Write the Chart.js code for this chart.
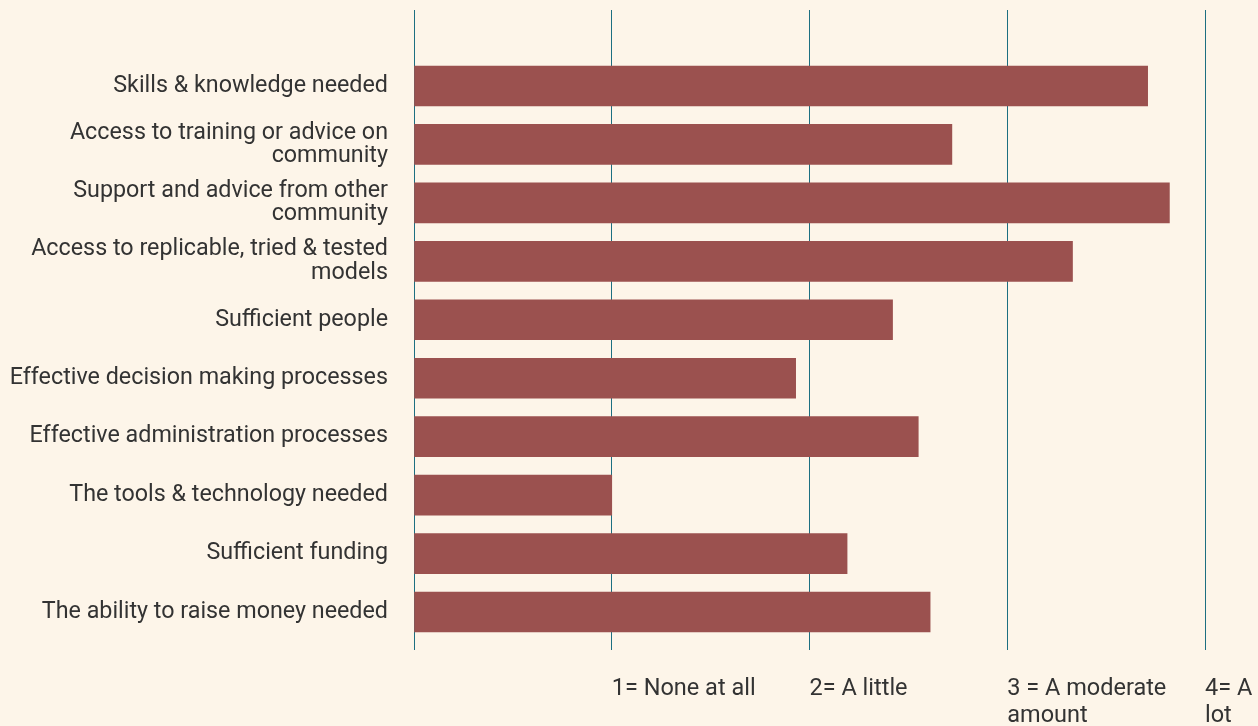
<!DOCTYPE html>
<html>
<head>
<meta charset="utf-8">
<script src="https://cdn.jsdelivr.net/npm/chart.js@4"></script>
<style>
  html, body { margin: 0; padding: 0; background: #fdf5e9; }
  #wrap { width: 1258px; height: 726px; position: relative; }
</style>
</head>
<body>
<div id="wrap"><canvas id="chart"></canvas></div>
<script>
/* ── Data ── */
const CATEGORIES = [
  'Skills & knowledge needed',
  ['Access to training or advice on', 'community'],
  ['Support and advice from other', 'community'],
  ['Access to replicable, tried & tested', 'models'],
  'Sufficient people',
  'Effective decision making processes',
  'Effective administration processes',
  'The tools & technology needed',
  'Sufficient funding',
  'The ability to raise money needed',
];
const SCORES = [3.71, 2.72, 3.82, 3.33, 2.42, 1.93, 2.55, 1.0, 2.19, 2.61];
const SCALE_LABELS = ['', '1= None at all', '2= A little', ['3 = A moderate', 'amount'], ['4= A', 'lot']];

/* ── Constants ── */
const BAR_COLOR  = '#9b514f';
const GRID_COLOR = '#1d6f81';
const TEXT_COLOR = '#333333';
const FONT       = 'Roboto, "Noto Sans", sans-serif';

/* ── Horizontal bar chart (index axis is linear so the plot can run past the bars) ── */
new Chart(document.getElementById('chart'), {
  type: 'bar',
  data: {
    datasets: [{
      data:            SCORES.map((v, i) => ({ x: v, y: i })),
      backgroundColor: BAR_COLOR,
      borderWidth:     0,
      barThickness:    40,
    }],
  },
  options: {
    indexAxis:           'y',
    responsive:          true,
    maintainAspectRatio: false,
    animation:           false,
    layout: { padding: { top: 10, left: 0, right: 0, bottom: 0 } },
    plugins: {
      legend:  { display: false },
      tooltip: { enabled: false },
    },
    scales: {
      x: {
        type: 'linear',
        min: 0,
        max: 4,
        offset: false,
        border: { display: false },
        grid:   { color: GRID_COLOR, lineWidth: 1, drawTicks: false, offset: false },
        afterFit: s => { s.height = 76; s.paddingLeft = 0; s.paddingRight = 53; },
        ticks: {
          stepSize: 1,
          align:    'start',
          padding:  26,
          color:    TEXT_COLOR,
          font:     { family: FONT, size: 23.5, lineHeight: 1.15 },
          callback: v => SCALE_LABELS[v] ?? '',
        },
      },
      y: {
        type: 'linear',
        reverse: true,
        offset: false,
        min: -1.3,
        max: 9.65,
        border: { display: false },
        grid:   { display: false, offset: false },
        afterFit: s => { s.width = 414; s.paddingTop = 0; s.paddingBottom = 0; },
        ticks: {
          stepSize: 1,
          autoSkip: false,
          padding:  18,
          color:    TEXT_COLOR,
          font:     { family: FONT, size: 23.3, lineHeight: 1.0 },
          callback: v => (Number.isInteger(v) && CATEGORIES[v] !== undefined) ? CATEGORIES[v] : '',
        },
      },
    },
  },
});
</script>
</body>
</html>
